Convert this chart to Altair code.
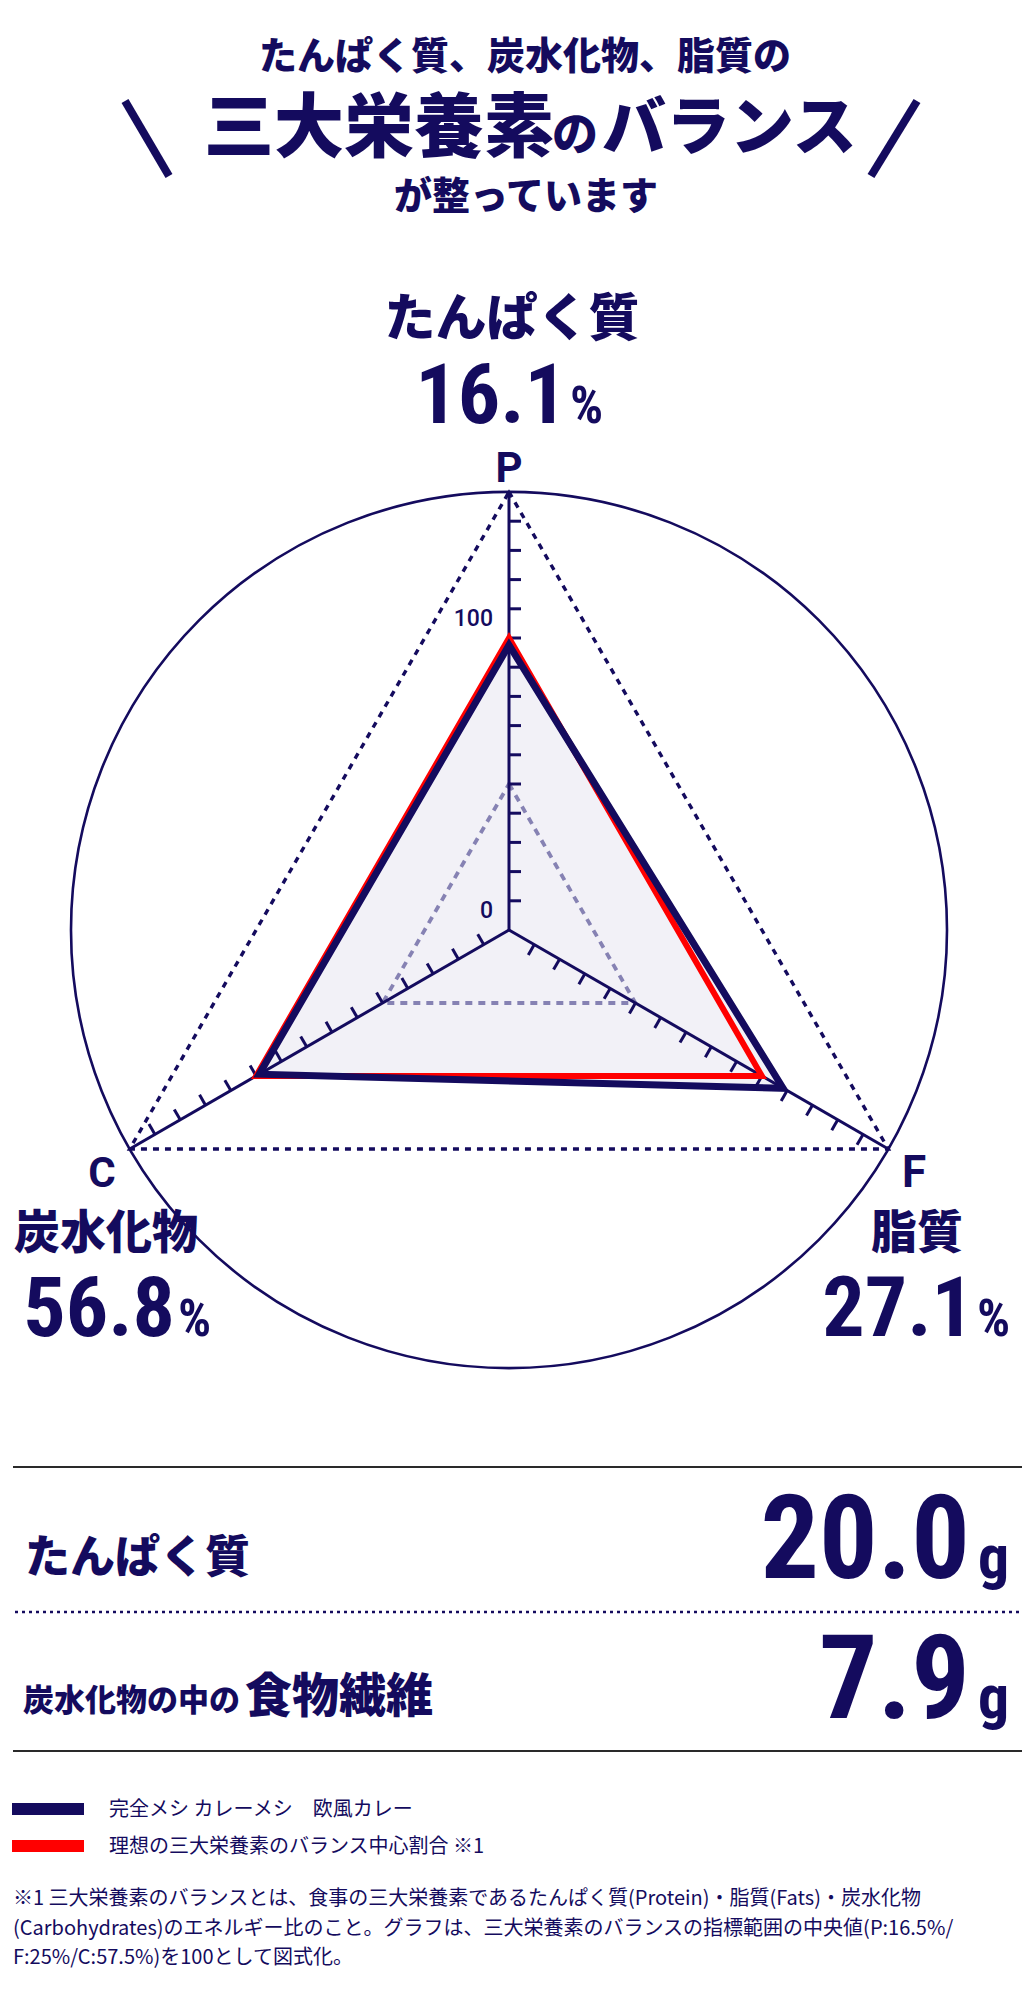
import altair as alt
import pandas as pd

# ---------------- data ----------------
axis_keys = ["P", "F", "C"]
axis_names = ["たんぱく質", "脂質", "炭水化物"]
axis_angle = [90, -30, 210]
product_pct = [16.1, 27.1, 56.8]
ideal_pct = [16.5, 25.0, 57.5]
guide_inner = 50
guide_outer = 150
tick_values = [10, 20, 30, 40, 50, 60, 70, 80, 90, 100, 110, 120, 130, 140]
axis_label_values = [0, 100]
nutrient_names = ["たんぱく質", "炭水化物の中の", "食物繊維"]
nutrient_grams = ["20.0", "7.9"]
legend_labels = ["完全メシ カレーメシ　欧風カレー", "理想の三大栄養素のバランス中心割合 ※1"]
footnote_lines = [
    "※1 三大栄養素のバランスとは、食事の三大栄養素であるたんぱく質(Protein)・脂質(Fats)・炭水化物",
    "(Carbohydrates)のエネルギー比のこと。グラフは、三大栄養素のバランスの指標範囲の中央値(P:16.5%/",
    "F:25%/C:57.5%)を100として図式化。",
]

# ---------------- style ----------------
NAVY = "#140b5e"
RED = "#ff0000"
FILL = "#f2f1f7"
GRAY = "#8682b3"
JP = "Noto Sans CJK JP"
NUM = "Liberation Sans Narrow, Roboto Condensed, Roboto, sans-serif"
LAT = "Roboto, sans-serif"

W, H = 1019, 1970
M = 8  # page margin
CX, CY, R150 = 509 - M, 930 - M, 438

xs = alt.Scale(domain=[-150, 150], range=[CX - R150, CX + R150], nice=False, zero=False)
ys = alt.Scale(domain=[-150, 150], range=[CY + R150, CY - R150], nice=False, zero=False)

poly_rows = []
for i, (a, p, q) in enumerate(zip(axis_angle, product_pct, ideal_pct)):
    poly_rows.append({"series": "product", "idx": i, "angle": a, "score": p / q * 100})
    poly_rows.append({"series": "ideal", "idx": i, "angle": a, "score": q / q * 100})
poly = pd.DataFrame(poly_rows)
axes_df = pd.DataFrame({"key": axis_keys, "angle": axis_angle, "idx": range(3)})
ticks_df = pd.DataFrame([{"angle": a, "v": v} for a in axis_angle for v in tick_values])
labels_df = pd.DataFrame({"v": axis_label_values, "lab": [str(v) for v in axis_label_values]})
one = pd.DataFrame({"k": [0]})

XY = dict(x="datum.score * cos(datum.angle * PI / 180)", y="datum.score * sin(datum.angle * PI / 180)")
enc_xy = dict(x=alt.X("x:Q", scale=xs, axis=None), y=alt.Y("y:Q", scale=ys, axis=None),
              order=alt.Order("idx:Q"))

layers = []

# outer circle
layers.append(alt.Chart(one).transform_calculate(x="0", y="0").mark_point(
    shape="circle", filled=False, size=(2 * R150) ** 2, stroke=NAVY, strokeWidth=2.6, opacity=1
).encode(x=alt.X("x:Q", scale=xs, axis=None), y=alt.Y("y:Q", scale=ys, axis=None)))

# product fill
layers.append(alt.Chart(poly).transform_filter("datum.series == 'product'").transform_calculate(**XY)
              .mark_line(interpolate="linear-closed", fill=FILL, stroke=FILL, strokeWidth=0.1).encode(**enc_xy))

# guide triangles
for lvl, col, dash, sw in [(guide_inner, GRAY, [7, 6], 3.8), (guide_outer, NAVY, [6, 6], 3.4)]:
    layers.append(alt.Chart(axes_df).transform_calculate(score=str(lvl), **XY)
                  .mark_line(interpolate="linear-closed", color=col, strokeDash=dash, strokeWidth=sw)
                  .encode(**enc_xy))

# axis lines
layers.append(alt.Chart(axes_df).transform_calculate(
    x0="0", y0="0",
    x1=f"{guide_outer} * cos(datum.angle * PI / 180)", y1=f"{guide_outer} * sin(datum.angle * PI / 180)"
).mark_rule(color=NAVY, strokeWidth=3).encode(
    x=alt.X("x0:Q", scale=xs, axis=None), y=alt.Y("y0:Q", scale=ys, axis=None), x2="x1:Q", y2="y1:Q"))

# ticks
TL = 12 / (R150 / 150)
layers.append(alt.Chart(ticks_df).transform_calculate(
    x0="datum.v * cos(datum.angle * PI / 180)", y0="datum.v * sin(datum.angle * PI / 180)",
    x1=f"datum.v * cos(datum.angle * PI / 180) + {TL} * cos((datum.angle - 90) * PI / 180)",
    y1=f"datum.v * sin(datum.angle * PI / 180) + {TL} * sin((datum.angle - 90) * PI / 180)",
).mark_rule(color=NAVY, strokeWidth=3).encode(
    x=alt.X("x0:Q", scale=xs, axis=None), y=alt.Y("y0:Q", scale=ys, axis=None), x2="x1:Q", y2="y1:Q"))

# arrow head on P axis
layers.append(alt.Chart(axes_df).transform_filter("datum.key == 'P'").transform_calculate(
    x="0", y=str(guide_outer)).mark_point(shape="triangle-up", filled=True, size=40, color=NAVY, opacity=1)
    .encode(x=alt.X("x:Q", scale=xs, axis=None), y=alt.Y("y:Q", scale=ys, axis=None)))

# axis value labels
layers.append(alt.Chart(labels_df).transform_calculate(x="0").mark_text(
    font=LAT, fontSize=23, fontWeight=500, color=NAVY, align="right", baseline="middle", dx=-16, dy=-19
).encode(x=alt.X("x:Q", scale=xs, axis=None), y=alt.Y("v:Q", scale=ys, axis=None), text="lab:N"))

# ideal (red) and product (navy) outlines
layers.append(alt.Chart(poly).transform_filter("datum.series == 'ideal'").transform_calculate(**XY)
              .mark_line(interpolate="linear-closed", color=RED, strokeWidth=6, strokeJoin="miter")
              .encode(**enc_xy))
layers.append(alt.Chart(poly).transform_filter("datum.series == 'product'").transform_calculate(**XY)
              .mark_line(interpolate="linear-closed", color=NAVY, strokeWidth=7, strokeJoin="miter")
              .encode(**enc_xy))


# ---------------- text helpers ----------------
def T(text, x, y, size, font=JP, weight=900, align="center", baseline="middle", color=NAVY):
    if baseline == "middle" and font == JP:
        y = y + 0.065 * size
    return alt.Chart(one).mark_text(text=text, font=font, fontSize=size, fontWeight=weight, align=align,
                                    baseline=baseline, color=color).encode(
        x=alt.value(x - M), y=alt.value(y - M))


def R(x1, y1, x2, y2, color=NAVY, width=2, dash=None):
    kw = dict(color=color, strokeWidth=width)
    if dash:
        kw["strokeDash"] = dash
    return alt.Chart(one).mark_rule(**kw).encode(
        x=alt.value(x1 - M), y=alt.value(y1 - M), x2=alt.value(x2 - M), y2=alt.value(y2 - M))


# header
layers.append(T("たんぱく質、炭水化物、脂質の", 525, 56, 38))
layers.append(T("三大栄養素", 204, 126, 70, align="left"))
layers.append(T("の", 552, 133, 46, align="left"))
layers.append(T("バランス", 602, 126, 64, align="left"))
layers.append(T("が整っています", 526, 196, 38))
layers.append(R(125, 101, 169, 176, width=8))
layers.append(R(917, 101, 871, 176, width=8))

# radar labels
pct = [f"{v:.1f}" for v in product_pct]
PF, PS = 84, 52
layers.append(T(axis_names[0], 512, 318, 51))
layers.append(T(pct[0], 567, 423, PF, font=NUM, weight=700, align="right", baseline="alphabetic"))
layers.append(T("%", 570, 423, PS, font=NUM, weight=700, align="left", baseline="alphabetic"))
layers.append(T(axis_keys[0], 509, 482, 42, font=LAT, weight=700, baseline="alphabetic"))

layers.append(T(axis_keys[2], 102, 1187, 42, font=LAT, weight=700, baseline="alphabetic"))
layers.append(T(axis_names[2], 106, 1231, 46))
layers.append(T(pct[2], 175, 1336, PF, font=NUM, weight=700, align="right", baseline="alphabetic"))
layers.append(T("%", 178, 1336, PS, font=NUM, weight=700, align="left", baseline="alphabetic"))

layers.append(T(axis_keys[1], 914, 1187, 44, font=LAT, weight=700, baseline="alphabetic"))
layers.append(T(axis_names[1], 917, 1231, 46))
layers.append(T(pct[1], 974, 1336, PF, font=NUM, weight=700, align="right", baseline="alphabetic"))
layers.append(T("%", 977, 1336, PS, font=NUM, weight=700, align="left", baseline="alphabetic"))

# nutrient table
layers.append(R(13, 1467, 1022, 1467, color="#2a2a2a", width=2))
layers.append(T(nutrient_names[0], 25, 1556, 45, align="left"))
layers.append(T(nutrient_grams[0], 970, 1578, 116, font=NUM, weight=700, align="right", baseline="alphabetic"))
layers.append(T("g", 978, 1578, 62, font=NUM, weight=700, align="left", baseline="alphabetic"))
layers.append(R(15, 1612, 1022, 1612, color=NAVY, width=2.5, dash=[3, 4]))
layers.append(T(nutrient_names[1], 23, 1711, 31, align="left", baseline="alphabetic"))
layers.append(T(nutrient_names[2], 245, 1712, 47, align="left", baseline="alphabetic"))
layers.append(T(nutrient_grams[1], 970, 1718, 116, font=NUM, weight=700, align="right", baseline="alphabetic"))
layers.append(T("g", 978, 1718, 62, font=NUM, weight=700, align="left", baseline="alphabetic"))
layers.append(R(13, 1751, 1022, 1751, color="#2a2a2a", width=2))

# legend
for lab, col, yc in zip(legend_labels, [NAVY, RED], [1809, 1846]):
    layers.append(alt.Chart(one).mark_rect(color=col).encode(
        x=alt.value(12 - M), x2=alt.value(84 - M), y=alt.value(yc - 6 - M), y2=alt.value(yc + 6 - M)))
    layers.append(T(lab, 109, yc, 20, weight=400, align="left"))

# footnote
for line, yc in zip(footnote_lines, [1898, 1928, 1957]):
    layers.append(T(line, 13, yc, 20, weight=400, align="left"))

chart = alt.layer(*layers).properties(
    width=W, height=H, autosize=alt.AutoSizeParams(type="none"), padding=0
).configure_view(stroke=None)

chart.save("out.html", embed_options={"renderer": "svg", "actions": False})
